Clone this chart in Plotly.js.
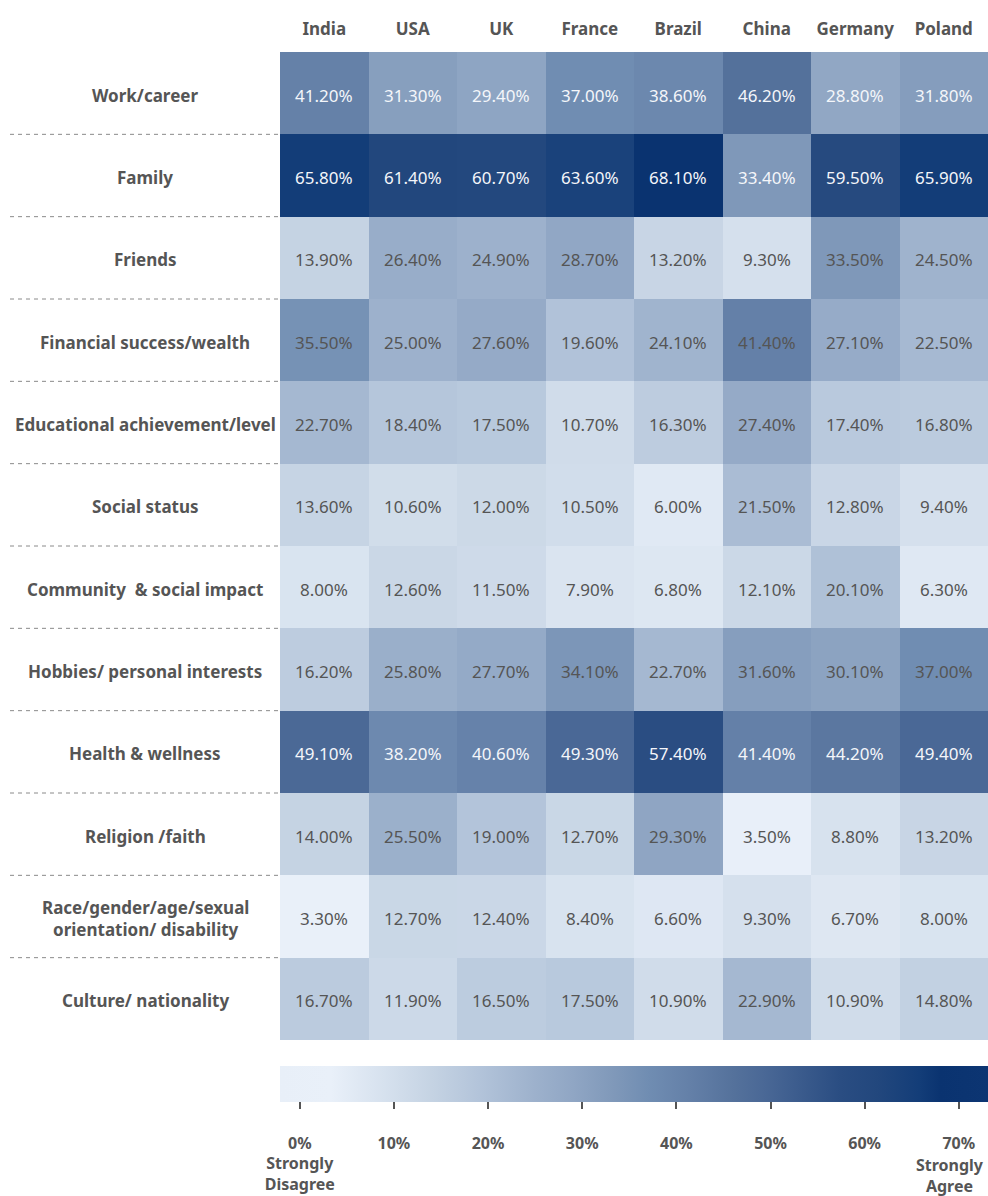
<!DOCTYPE html>
<html>
<head>
<meta charset="utf-8">
<script src="https://cdn.plot.ly/plotly-3.0.1.min.js"></script>
<style>
html,body{margin:0;padding:0;background:#fff;}
#chart{width:988px;height:1196px;}
</style>
</head>
<body>
<div id="chart"></div>
<script>
// ---- data ----
const countries = ["India", "USA", "UK", "France", "Brazil", "China", "Germany", "Poland"];
const categories = [
  "Work/career",
  "Family",
  "Friends",
  "Financial success/wealth",
  "Educational achievement/level",
  "Social status",
  "Community  & social impact",
  "Hobbies/ personal interests",
  "Health & wellness",
  "Religion /faith",
  "Race/gender/age/sexual<br>orientation/ disability",
  "Culture/ nationality"
];
const workCareer   = [41.2, 31.3, 29.4, 37.0, 38.6, 46.2, 28.8, 31.8];
const family       = [65.8, 61.4, 60.7, 63.6, 68.1, 33.4, 59.5, 65.9];
const friends      = [13.9, 26.4, 24.9, 28.7, 13.2, 9.3, 33.5, 24.5];
const financial    = [35.5, 25.0, 27.6, 19.6, 24.1, 41.4, 27.1, 22.5];
const educational  = [22.7, 18.4, 17.5, 10.7, 16.3, 27.4, 17.4, 16.8];
const socialStatus = [13.6, 10.6, 12.0, 10.5, 6.0, 21.5, 12.8, 9.4];
const community    = [8.0, 12.6, 11.5, 7.9, 6.8, 12.1, 20.1, 6.3];
const hobbies      = [16.2, 25.8, 27.7, 34.1, 22.7, 31.6, 30.1, 37.0];
const health       = [49.1, 38.2, 40.6, 49.3, 57.4, 41.4, 44.2, 49.4];
const religion     = [14.0, 25.5, 19.0, 12.7, 29.3, 3.5, 8.8, 13.2];
const raceGender   = [3.3, 12.7, 12.4, 8.4, 6.6, 9.3, 6.7, 8.0];
const culture      = [16.7, 11.9, 16.5, 17.5, 10.9, 22.9, 10.9, 14.8];
const colorbarTickVals = [0, 10, 20, 30, 40, 50, 60, 70];
const colorbarTickText = [
  "<br>0%<br>Strongly<br>Disagree", "<br>10%", "<br>20%", "<br>30%", "<br>40%", "<br>50%", "<br>60%", "<br>70%"
];
const agreeLabel = "Strongly<br>Agree";

const zValues = [workCareer, family, friends, financial, educational, socialStatus,
                 community, hobbies, health, religion, raceGender, culture];

// ---- style ----
const whiteTextRows = [true, true, false, false, false, false, false, false, true, false, false, false];
const zmin = -2.1, zmax = 73.1;
const colorStops = [
  [-2.1, "#e8eff8"], [3.3, "#e9f0f9"], [9, "#d6e1ee"], [14, "#c5d3e3"],
  [19, "#b3c4da"], [25, "#9db1cc"], [29, "#90a6c4"], [33.5, "#7f98b9"],
  [37, "#708db2"], [41.4, "#6480a8"], [46.2, "#54719b"], [49.3, "#4a6896"],
  [57.4, "#2a4d82"], [61.4, "#22477d"], [65.8, "#133d78"], [68.1, "#0a3370"],
  [73.1, "#0c3572"]
];
const colorscale = colorStops.map(s => [(s[0] - zmin) / (zmax - zmin), s[1]]);

const FONT = "Noto Sans, DejaVu Sans, sans-serif";
const GRAY = "#555555";

const trace = {
  type: "heatmap",
  x: countries,
  y: categories,
  z: zValues,
  zmin: zmin,
  zmax: zmax,
  colorscale: colorscale,
  xgap: 0, ygap: 0,
  hoverinfo: "skip",
  colorbar: {
    orientation: "h",
    x: 0, xanchor: "left", xref: "paper",
    y: -26 / 988, yanchor: "top", yref: "paper",
    len: 708, lenmode: "pixels",
    thickness: 36, thicknessmode: "pixels",
    xpad: 0, ypad: 0,
    outlinewidth: 0,
    tickmode: "array",
    tickvals: colorbarTickVals,
    ticktext: colorbarTickText,
    ticklabeloverflow: "allow",
    ticks: "outside", ticklen: 7, tickwidth: 2, tickcolor: "#555",
    tickfont: {family: FONT, size: 16, color: GRAY, weight: "bold"}
  }
};

const annotations = [];
zValues.forEach((row, i) => {
  row.forEach((v, j) => {
    annotations.push({
      x: countries[j], y: categories[i], xref: "x", yref: "y",
      text: v.toFixed(2) + "%", showarrow: false, yshift: -2,
      font: {family: FONT, size: 17, color: whiteTextRows[i] ? "#f4f6fa" : "#555555"}
    });
  });
  annotations.push({
    x: -135 / 708, xref: "paper", xanchor: "center",
    y: categories[i], yref: "y", yshift: -2,
    text: categories[i], showarrow: false, align: "center",
    font: {family: FONT, size: 17, color: GRAY, weight: "bold"}
  });
});
annotations.push({
  x: 1, xref: "paper", xanchor: "right", xshift: -3,
  y: -113 / 988, yref: "paper", yanchor: "top",
  text: agreeLabel, showarrow: false, align: "center",
  borderpad: 0,
  font: {family: FONT, size: 16, color: GRAY, weight: "bold"}
});

const shapes = [];
for (let k = 0; k < categories.length - 1; k++) {
  shapes.push({
    type: "line", xref: "paper", yref: "y",
    x0: -270 / 708, x1: -2 / 708, y0: k + 0.5, y1: k + 0.5,
    line: {color: "#8a8a8a", width: 1, dash: "4px,4px"}
  });
}

const layout = {
  width: 988, height: 1196,
  margin: {l: 280, r: 0, t: 52, b: 156, autoexpand: false},
  paper_bgcolor: "#fff", plot_bgcolor: "#fff",
  font: {family: FONT, color: GRAY},
  xaxis: {
    side: "top", type: "category",
    showgrid: false, zeroline: false, showline: false,
    ticks: "", ticklabelstandoff: 13,
    tickfont: {family: FONT, size: 17, color: GRAY, weight: "bold"}
  },
  yaxis: {
    type: "category", autorange: "reversed",
    showgrid: false, zeroline: false, showline: false,
    showticklabels: false, ticks: ""
  },
  annotations: annotations,
  shapes: shapes,
  showlegend: false
};

Plotly.newPlot("chart", [trace], layout, {displayModeBar: false, staticPlot: true});
</script>
</body>
</html>
